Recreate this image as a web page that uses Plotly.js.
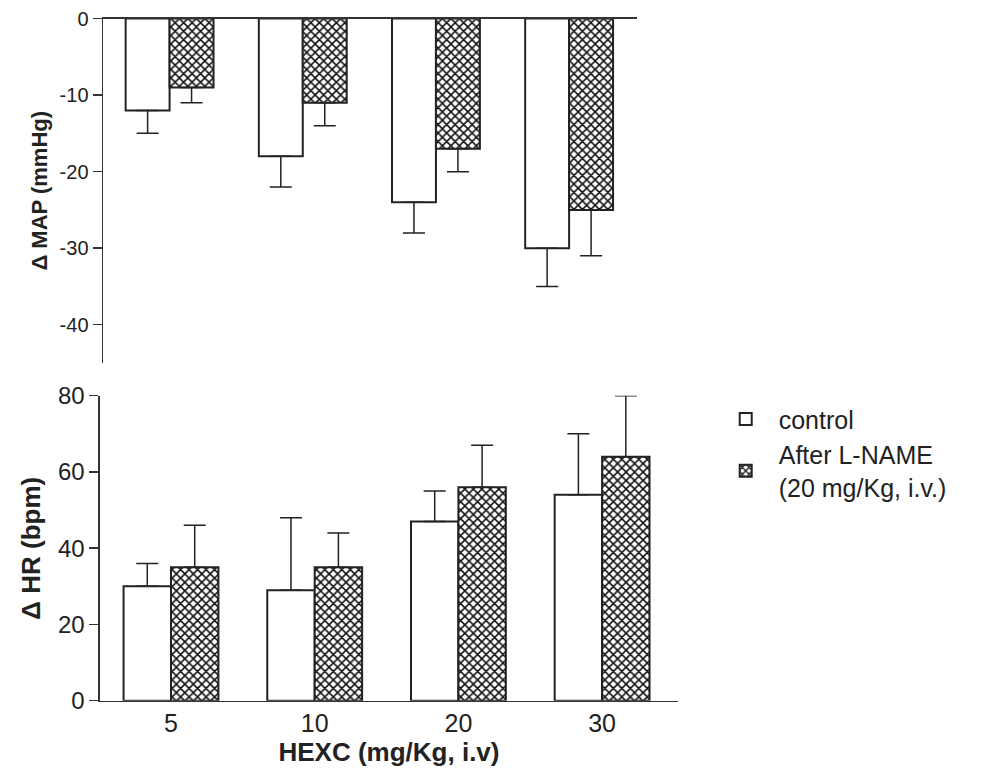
<!DOCTYPE html>
<html>
<head>
<meta charset="utf-8">
<script src="https://cdn.plot.ly/plotly-3.0.1.min.js"></script>
<style>
  html, body { margin: 0; padding: 0; background: #fff; }
  #chart { width: 1001px; height: 768px; }
</style>
</head>
<body>
<div id="chart"></div>
<script>
// ---- data ----
const doses = ['5', '10', '20', '30'];
const seriesNames = ['control', 'After L-NAME<br>(20 mg/Kg, i.v.)'];

const mapControl = [-12, -18, -24, -30];
const mapControlErr = [3, 4, 4, 5];
const mapLname = [-9, -11, -17, -25];
const mapLnameErr = [2, 3, 3, 6];

const hrControl = [30, 29, 47, 54];
const hrControlErr = [6, 19, 8, 16];
const hrLname = [35, 35, 56, 64];
const hrLnameErr = [11, 9, 11, 16];

const mapTickVals = [-40, -30, -20, -10, 0];
const mapTickText = ['-40', '-30', '-20', '-10', '0'];
const hrTickVals = [0, 20, 40, 60, 80];

// ---- styling ----
const FONT = '"Liberation Sans", Arial, Helvetica, sans-serif';
const INK = '#222';
const AXIS = '#333';
const zeros = doses.map(() => 0);

const controlMarker = { color: '#ffffff', line: { color: INK, width: 2 } };
const lnameMarker = {
  color: '#ffffff',
  line: { color: INK, width: 2 },
  pattern: { shape: 'x', fgcolor: '#111', bgcolor: '#ffffff', size: 6, solidity: 0.45 }
};
function errDown(v) {
  return { type: 'data', symmetric: false, array: zeros, arrayminus: v,
           color: INK, thickness: 1.5, width: 11 };
}
function errUp(v) {
  return { type: 'data', symmetric: false, array: v, arrayminus: zeros,
           color: INK, thickness: 1.5, width: 11 };
}

const traces = [
  { type: 'bar', x: doses, y: mapControl, name: seriesNames[0], legendgroup: 'c',
    showlegend: false, marker: controlMarker, error_y: errDown(mapControlErr),
    xaxis: 'x', yaxis: 'y' },
  { type: 'bar', x: doses, y: mapLname, name: seriesNames[1], legendgroup: 'l',
    showlegend: false, marker: lnameMarker, error_y: errDown(mapLnameErr),
    xaxis: 'x', yaxis: 'y' },
  { type: 'bar', x: doses, y: hrControl, name: seriesNames[0], legendgroup: 'c',
    marker: controlMarker, error_y: errUp(hrControlErr),
    xaxis: 'x2', yaxis: 'y2' },
  { type: 'bar', x: doses, y: hrLname, name: seriesNames[1], legendgroup: 'l',
    marker: lnameMarker, error_y: errUp(hrLnameErr),
    xaxis: 'x2', yaxis: 'y2' }
];

const layout = {
  width: 1001, height: 768,
  margin: { l: 0, r: 0, t: 0, b: 0 },
  paper_bgcolor: '#fff', plot_bgcolor: '#fff',
  font: { family: FONT, color: INK },
  barmode: 'group', bargap: 0.34, bargroupgap: 0,
  showlegend: true,
  legend: {
    x: 0.712, y: 0.484, xanchor: 'left', yanchor: 'top',
    font: { family: FONT, size: 25, color: INK },
    traceorder: 'normal', itemwidth: 56, tracegroupgap: 2,
    bgcolor: 'rgba(0,0,0,0)'
  },
  // top panel: change in MAP
  xaxis: {
    domain: [0.1029, 0.6364], anchor: 'y', side: 'top',
    type: 'category', range: [-0.5, 3.51],
    showline: true, linecolor: AXIS, linewidth: 1.5,
    showticklabels: false, ticks: '', showgrid: false, zeroline: false
  },
  yaxis: {
    domain: [0.5273, 0.9759], anchor: 'x',
    range: [-45, 0], tickvals: mapTickVals, ticktext: mapTickText,
    showline: true, linecolor: AXIS, linewidth: 1.5,
    ticks: 'outside', ticklen: 9, tickwidth: 1.5, tickcolor: AXIS,
    tickfont: { family: FONT, size: 20, color: INK },
    showgrid: false, zeroline: false, automargin: false,
    title: { text: '<b>\u0394 MAP (mmHg)</b>', font: { family: FONT, size: 22, color: INK }, standoff: 6 }
  },
  // bottom panel: change in HR
  xaxis2: {
    domain: [0.0999, 0.6773], anchor: 'y2',
    type: 'category', range: [-0.494, 3.528],
    showline: true, linecolor: AXIS, linewidth: 1.5,
    ticks: '', showgrid: false, zeroline: false, automargin: false,
    tickfont: { family: FONT, size: 25, color: INK },
    title: { text: '<b>HEXC (mg/Kg, i.v)</b>', font: { family: FONT, size: 26, color: INK }, standoff: 2 }
  },
  yaxis2: {
    domain: [0.0876, 0.4848], anchor: 'x2',
    range: [0, 80], tickvals: hrTickVals,
    showline: true, linecolor: AXIS, linewidth: 1.5,
    ticks: 'outside', ticklen: 9, tickwidth: 1.5, tickcolor: AXIS,
    tickfont: { family: FONT, size: 24, color: INK },
    showgrid: false, zeroline: false, automargin: false,
    title: { text: '<b>\u0394 HR (bpm)</b>', font: { family: FONT, size: 26, color: INK }, standoff: 10 }
  }
};

Plotly.newPlot('chart', traces, layout, { displayModeBar: false, staticPlot: true });
</script>
</body>
</html>
